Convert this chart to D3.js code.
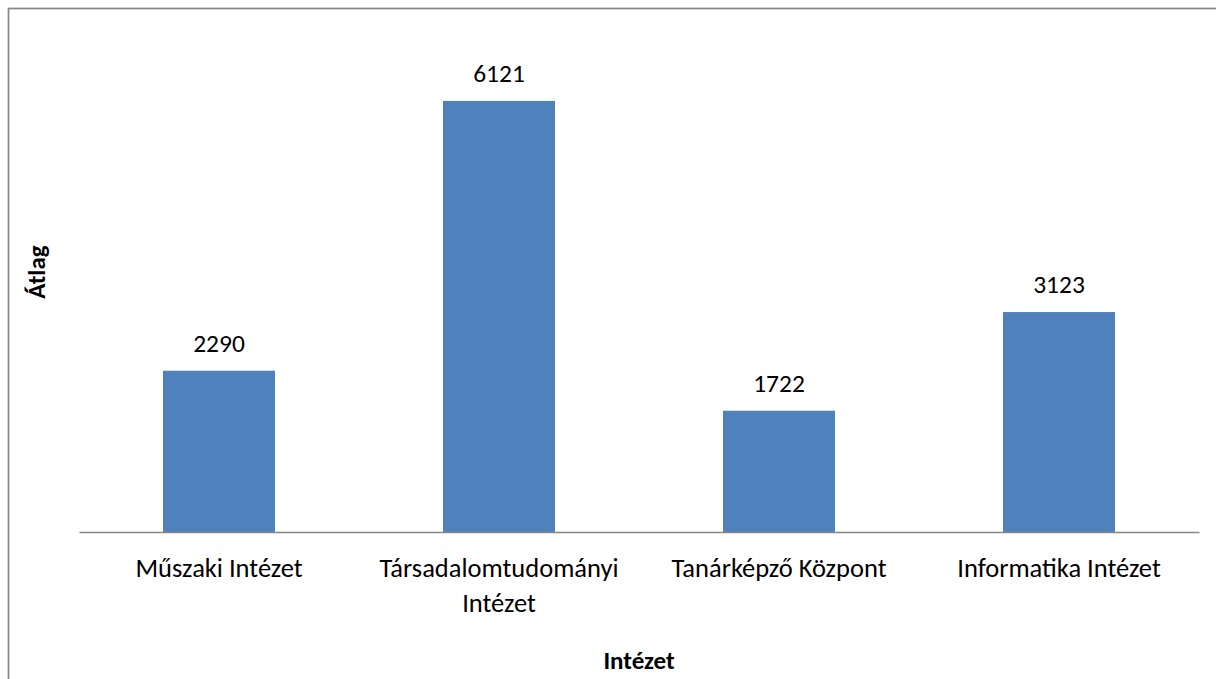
<!DOCTYPE html>
<html>
<head>
<meta charset="utf-8">
<script src="https://cdn.jsdelivr.net/npm/d3@7"></script>
<style>
  html, body { margin: 0; padding: 0; background: #fff; }
  svg text { font-family: Carlito, Lato, "Open Sans", sans-serif; fill: #000; }
</style>
</head>
<body>
<svg id="chart" width="1216" height="679"></svg>
<script>
// adatok
const categories = ['Műszaki Intézet', 'Társadalomtudományi Intézet', 'Tanárképző Központ', 'Informatika Intézet'];
const values = [2290, 6121, 1722, 3123];
const yDomain = [0, 7000];
const xTitle = 'Intézet';
const yTitle = 'Átlag';

const W = 1216, H = 679;
const plot = { left: 79, right: 1199, top: 39, bottom: 532 };

const svg = d3.select('#chart');

// keret
svg.append('rect')
  .attr('x', 8.5).attr('y', 8.5)
  .attr('width', W + 10).attr('height', H + 10)
  .attr('fill', 'none')
  .attr('stroke', '#878787')
  .attr('stroke-width', 1.75);

const x = d3.scaleBand()
  .domain(categories)
  .range([plot.left, plot.right])
  .paddingInner(0.6)
  .paddingOuter(0.3);

const y = d3.scaleLinear()
  .domain(yDomain)
  .range([plot.bottom, plot.top]);

// oszlopok
svg.selectAll('.bar')
  .data(values)
  .enter()
  .append('rect')
  .attr('class', 'bar')
  .attr('x', (d, i) => x(categories[i]))
  .attr('y', d => y(d))
  .attr('width', x.bandwidth())
  .attr('height', d => y(0) - y(d))
  .attr('fill', '#4F81BD');

// értékek
svg.selectAll('.val')
  .data(values)
  .enter()
  .append('text')
  .attr('class', 'val')
  .attr('x', (d, i) => x(categories[i]) + x.bandwidth() / 2)
  .attr('y', d => y(d) - 19)
  .attr('text-anchor', 'middle')
  .style('font-size', '25.5px')
  .text(d => d);

// x tengely
const xAxis = svg.append('g')
  .attr('transform', `translate(0,${plot.bottom})`)
  .call(d3.axisBottom(x).tickSize(0).tickSizeOuter(0));

xAxis.select('.domain')
  .attr('stroke', '#868686')
  .attr('stroke-width', 1.5);

xAxis.selectAll('.tick text')
  .attr('fill', '#000')
  .style('font-size', '26.5px')
  .each(function () {
    const t = d3.select(this);
    const words = t.text().split(' ');
    t.text(null).attr('y', 0).attr('dy', null);
    const maxW = 262;
    let lines = [[]];
    words.forEach(w => {
      const cur = lines[lines.length - 1];
      const probe = t.append('tspan').text(cur.concat(w).join(' '));
      const wd = probe.node().getComputedTextLength();
      probe.remove();
      if (wd > maxW && cur.length) lines.push([w]);
      else cur.push(w);
    });
    lines.forEach((ln, i) => {
      t.append('tspan')
        .attr('x', 0)
        .attr('y', 45 + i * 35)
        .text(ln.join(' '));
    });
  });

// tengelycímek
svg.append('text')
  .attr('x', (plot.left + plot.right) / 2)
  .attr('y', 669)
  .attr('text-anchor', 'middle')
  .style('font-size', '25px')
  .style('font-weight', 'bold')
  .text(xTitle);

svg.append('text')
  .attr('transform', 'translate(45,272) rotate(-90)')
  .attr('text-anchor', 'middle')
  .style('font-size', '25px')
  .style('font-weight', 'bold')
  .text(yTitle);
</script>
</body>
</html>
